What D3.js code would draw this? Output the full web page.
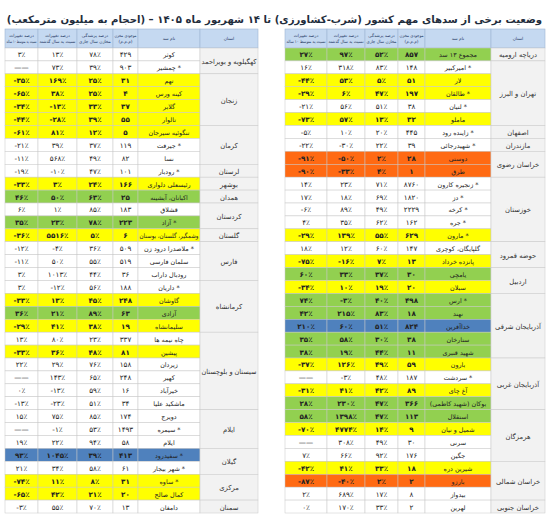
<!DOCTYPE html>
<html><head><meta charset="utf-8">
<script src="https://cdn.jsdelivr.net/npm/d3@7"></script>
<style>body{margin:0;background:#fff}svg{display:block}text{font-family:"DejaVu Sans",sans-serif}</style>
</head><body>
<script>
const title = "وضعیت برخی از سدهای مهم کشور (شرب-کشاورزی)  تا ۱۴ شهریور ماه ۱۴۰۵  –  (احجام به میلیون مترمکعب)";
const headers = ["استان","نام سد",["موجودی مخزن","(م.م.م)"],["درصد پرشدگی","مخازن سال جاری"],["درصد تغییرات","نسبت به سال گذشته"],["درصد تغییرات","نسبت به متوسط ۱۰ ساله"]];

// Right table
const rProvinces = [["دریاچه ارومیه",1],["تهران و البرز",5],["اصفهان",1],["مازندران",1],["خراسان رضوی",2],["خوزستان",5],["حوضه قمرود",2],["اردبیل",2],["آذربایجان شرقی",5],["آذربایجان غربی",4],["هرمزگان",4],["خراسان شمالی",3],["خراسان جنوبی",1]];
const rDams = ["مجموع ۱۳ سد","* امیرکبیر","لار","* طالقان","* لتیان","ماملو","* زاینده رود","* شهیدرجائی","دوستی","طرق","* زنجیره کارون","* دز","* کرخه","* جره","* مارون","گلپایگان، کوچری","پانزده خرداد","یامچی","سبلان","* ارس","نهند","خداآفرین","ستارخان","شهید قنبری","بارون","* سردشت","آغ چای","بوکان (شهید کاظمی)","استقلال","شمیل و نیان","سرنی","جگین","شیرین دره","بارزو","بیدواز","لهرین"];
const rStorage = [857,148,51,197,38,32,445,39,28,1,8760,1820,2229,162,629,147,13,30,20,498,18,824,38,11,59,187,89,366,113,9,30,176,18,2,8,2];
const rFill = [52,83,5,47,51,13,20,22,2,4,71,69,49,62,55,60,7,37,19,40,83,51,30,44,49,48,42,47,47,14,49,92,33,2,17,33];
const rChgYear = [97,318,53,6,56,57,10,-30,-50,-33,23,18,89,35,139,12,-16,33,10,-3,215,60,58,19,126,-3,41,230,1398,4774,308,66,41,-40,689,170];
const rChg10 = [27,16,-44,-29,-21,-73,-5,-22,-91,-90,14,17,-6,4,-29,18,-75,60,-34,74,42,210,35,38,-37,null,-31,28,58,-70,null,7,-42,-87,2,0];
const rColor = ["g","w","y","y","w","y","w","w","o","o","w","w","w","w","y","w","y","g","y","g","g","b","g","g","y","w","y","g","g","y","w","w","y","o","w","w"];

// Left table
const lProvinces = [["کهگیلویه و بویراحمد",2],["زنجان",4],["کرمان",3],["لرستان",1],["بوشهر",1],["همدان",1],["کردستان",2],["گلستان",1],["فارس",3],["کرمانشاه",4],["سیستان و بلوچستان",6],["ایلام",3],["گیلان",2],["مرکزی",2],["سمنان",1]];
const lDams = ["کوثر","* چمشیر","تهم","کینه ورس","گلابر","تالوار","تنگوئیه سیرجان","* جیرفت","نسا","* رودبار","رئیسعلی دلواری","اکباتان، آبشینه","قشلاق","* آزاد","وشمگیر، گلستان، بوستان","* ملاصدرا درود زن","سلمان فارسی","رودبال داراب","* داریان","گاوشان","آزادی","سلیمانشاه","چاه نیمه ها","پیشین","زیردان","کهیر","خیرآباد","ماشکید علیا","دویرج","* سیمره","ایلام","* سفیدرود","* شهر بیجار","* ساوه","کمال صالح","دامغان"];
const lStorage = [429,903,31,4,37,55,5,119,82,101,166,25,183,223,6,509,519,36,188,248,63,19,337,81,158,248,16,34,174,1493,58,413,61,31,20,13];
const lFill = [78,39,25,25,33,39,12,37,49,47,24,63,85,78,5,36,55,44,56,45,89,38,23,48,76,65,59,51,85,53,94,39,58,8,21,70];
const lChgYear = [13,73,169,38,-13,-28,81,39,568,-10,3,50,1,23,5516,-4,50,1013,-12,13,21,41,80,36,29,143,-13,-23,75,-1,22,1045,34,11,42,55];
const lChg10 = [3,null,-35,-65,-34,-44,-61,-21,-11,-19,-33,46,6,35,-36,-12,-11,3,3,-33,36,-29,13,-33,22,null,0,-13,15,null,19,93,21,-74,-65,-3];
const lColor = ["w","w","y","y","y","y","y","w","w","w","y","g","w","g","y","w","w","w","w","y","g","y","w","y","w","w","w","w","w","w","w","b","w","y","y","w"];

const fills = {w:"#ffffff",y:"#ffff00",g:"#92d050",o:"#ff6a13",b:"#4f81bd"};
const fa = s => String(s).replace(/\d/g,d=>"۰۱۲۳۴۵۶۷۸۹"[d]);
const pct = v => v==null ? "——" : (v<0?"-":"")+fa(Math.abs(v))+"٪";

const W=549,H=517;
const svg=d3.select("body").append("svg").attr("width",W).attr("height",H);

const t=svg.append("text").attr("x",W/2).attr("y",23).attr("text-anchor","middle").attr("direction","rtl")
 .attr("font-weight","bold").attr("font-size",16).attr("fill","#1f2d3d").text(title);
let tl=t.node().getComputedTextLength(); t.attr("font-size",16*536/tl);

function fit(sel,maxW){
  const w=sel.node().getComputedTextLength();
  if(w>maxW) sel.attr("textLength",maxW).attr("lengthAdjust","spacingAndGlyphs");
}

function table(x0,colW,provs,dams,stor,fill,cy,c10,col){
  const n=dams.length;
  const y=d3.scaleBand().domain(d3.range(n)).range([48,513]);
  const edges=[x0]; colW.forEach(w=>edges.push(edges[edges.length-1]+w));
  const xs=d3.scaleOrdinal().domain(d3.range(6)).range(edges.slice(0,6));
  const g=svg.append("g");
  const hdr=[headers[5],headers[4],headers[3],headers[2],headers[1],headers[0]];
  hdr.forEach((h,i)=>{
    g.append("rect").attr("x",xs(i)).attr("y",29).attr("width",colW[i]).attr("height",19).attr("fill","#c5d9f1").attr("stroke","#9fb6d4").attr("stroke-width",0.6);
    const lines=Array.isArray(h)?h:[h];
    lines.forEach((s,j)=>{
      const tx=g.append("text").attr("x",xs(i)+colW[i]/2).attr("y",38.5+(j-(lines.length-1)/2)*6+1.6)
        .attr("text-anchor","middle").attr("font-size",4.3).attr("fill","#1f3864").attr("direction","rtl").text(s);
      fit(tx,colW[i]-3);
    });
  });
  d3.range(n).forEach(r=>{
    const vals=[pct(c10[r]),pct(cy[r]),pct(fill[r]),fa(stor[r]),dams[r]];
    const bold=col[r]!=="w";
    vals.forEach((v,i)=>{
      g.append("rect").attr("x",xs(i)).attr("y",y(r)).attr("width",colW[i]).attr("height",y.bandwidth())
       .attr("fill",fills[col[r]]).attr("stroke","#c8c8c8").attr("stroke-width",0.5);
      const tx=g.append("text").attr("x",xs(i)+colW[i]/2).attr("y",y(r)+y.bandwidth()/2+3)
       .attr("text-anchor","middle").attr("font-size",i===4?6.4:7.2).attr("font-weight",bold&&i<4?"bold":"normal")
       .attr("fill","#222").attr("direction",i===4?"rtl":"ltr").text(v);
      fit(tx,colW[i]-3);
    });
  });
  let s=0;
  provs.forEach(([p,c])=>{
    g.append("rect").attr("x",xs(5)).attr("y",y(s)).attr("width",colW[5]).attr("height",y.bandwidth()*c)
     .attr("fill","#f2f2f2").attr("stroke","#c8c8c8").attr("stroke-width",0.5);
    const tx=g.append("text").attr("x",xs(5)+colW[5]/2).attr("y",y(s)+y.bandwidth()*c/2+3).attr("text-anchor","middle")
     .attr("font-size",6.8).attr("fill","#333").attr("direction","rtl").text(p);
    fit(tx,colW[5]-3);
    s+=c;
  });
}
table(285,[42,38,33,27,66,54],rProvinces,rDams,rStorage,rFill,rChgYear,rChg10,rColor);
table(5,[33,39,36,25,62,58],lProvinces,lDams,lStorage,lFill,lChgYear,lChg10,lColor);
</script>
</body></html>
